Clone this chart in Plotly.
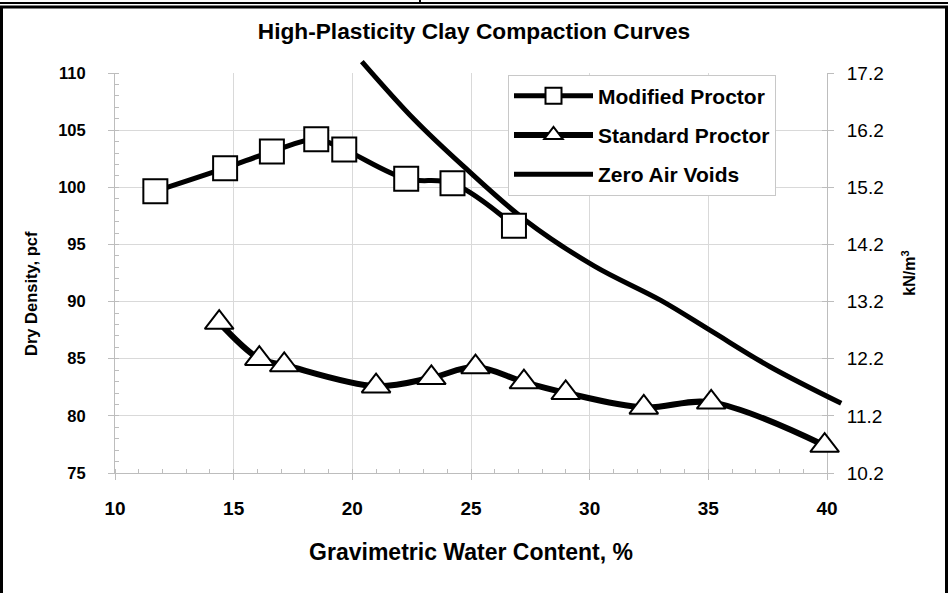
import plotly.graph_objects as go

# ---------------- data ----------------
mod_w = [11.70, 14.64, 16.61, 18.48, 19.66, 22.27, 24.22, 26.81]
mod_d = [99.65, 101.67, 103.13, 104.21, 103.31, 100.74, 100.35, 96.64]

std_w = [14.39, 16.08, 17.13, 21.00, 23.33, 25.19, 27.23, 28.99, 32.28, 35.12, 39.90]
std_d = [88.16, 85.00, 84.45, 82.60, 83.33, 84.27, 82.96, 82.02, 80.74, 81.18, 77.40]

zav_w = [20.4, 22.6, 24.7, 27.3, 30.2, 33.0, 35.1, 37.6, 40.6]
zav_d = [111.0, 105.95, 101.8, 97.1, 93.1, 90.1, 87.45, 84.3, 81.1]

x_ticks = [10, 15, 20, 25, 30, 35, 40]
y_ticks = [75, 80, 85, 90, 95, 100, 105, 110]
y2_ticks = [10.2, 11.2, 12.2, 13.2, 14.2, 15.2, 16.2, 17.2]

title_text = "High-Plasticity Clay Compaction Curves"
x_title = "Gravimetric Water Content, %"
y_title = "Dry Density, pcf"
y2_title = "kN/m<sup>3</sup>"

# ---------------- geometry ----------------
W, H = 948, 593
L, R, T, B = 115, 103, 58, 120          # outer plot area (lets the ZAV line overflow the axes box)
area_w = W - L - R                      # 730
area_h = H - T - B                      # 415
main_w = 712                            # main axes width  (x 10..40)
main_h = 400                            # main axes height (y 75..110)
xdom = main_w / area_w
ydom = main_h / area_h

def px(xp):
    return (xp - L) / area_w

def py(yp):
    return (H - B - yp) / area_h

FONT = "Liberation Sans, Arial, Helvetica, sans-serif"
GRID = "#d9d9d9"
AXC = "#bdbdbd"

fig = go.Figure()

# data traces live on a large invisible subplot (x2/y3) whose scale matches the main axes
fig.add_trace(go.Scatter(
    x=zav_w, y=zav_d, name="Zero Air Voids", mode="lines",
    line=dict(color="black", width=5, shape="spline", smoothing=1.0),
    legendgroup="c", legendrank=3, xaxis="x2", yaxis="y3",
))
fig.add_trace(go.Scatter(
    x=mod_w, y=mod_d, name="Modified Proctor", mode="lines+markers",
    line=dict(color="black", width=5, shape="spline", smoothing=1.0),
    marker=dict(symbol="square", size=24, color="white", line=dict(color="black", width=2)),
    legendgroup="a", legendrank=1, xaxis="x2", yaxis="y3",
))
fig.add_trace(go.Scatter(
    x=std_w, y=std_d, name="Standard Proctor", mode="lines+markers",
    line=dict(color="black", width=6, shape="spline", smoothing=1.0),
    marker=dict(symbol="triangle-up", size=25, color="white", line=dict(color="black", width=2)),
    legendgroup="b", legendrank=2, xaxis="x2", yaxis="y3",
))
# invisible helper traces to activate the visible axes
fig.add_trace(go.Scatter(x=[10, 40], y=[75, 110], mode="markers", marker=dict(opacity=0),
                         showlegend=False, hoverinfo="skip", xaxis="x", yaxis="y"))
fig.add_trace(go.Scatter(x=[10, 40], y=[10.2, 17.2], mode="markers", marker=dict(opacity=0),
                         showlegend=False, hoverinfo="skip", xaxis="x", yaxis="y2"))
fig.add_trace(go.Scatter(x=[10, 40], y=[10.2, 17.2], mode="markers", marker=dict(opacity=0),
                         showlegend=False, hoverinfo="skip", xaxis="x", yaxis="y4"))

x_per_px = 30 / main_w
y_per_px = 35 / main_h

fig.update_layout(
    width=W, height=H,
    margin=dict(l=L, r=R, t=T, b=B, pad=0),
    paper_bgcolor="white", plot_bgcolor="rgba(0,0,0,0)",
    font=dict(family=FONT, color="black"),
    showlegend=True,
    title=dict(text=title_text, x=0.5, xref="container", xanchor="center",
               y=1 - 31.5 / H, yref="container", yanchor="middle",
               font=dict(family=FONT, size=22.7, weight="bold", color="black")),
    xaxis=dict(domain=[0, xdom], range=[10, 40], tickvals=x_ticks,
               showgrid=True, gridcolor=GRID, gridwidth=1, zeroline=False,
               showline=True, linecolor=AXC, linewidth=1,
               ticks="outside", ticklen=6, tickcolor=AXC,
               minor=dict(dtick=1, ticks="inside", ticklen=4, tickcolor=AXC, showgrid=False),
               tickfont=dict(family=FONT, size=19, weight="bold", color="black"),
               ticklabelstandoff=12,
               title=dict(text=x_title, standoff=26,
                          font=dict(family=FONT, size=23, weight="bold", color="black")),
               anchor="y"),
    yaxis=dict(domain=[0, ydom], range=[75, 110], tickvals=y_ticks,
               showgrid=True, gridcolor=GRID, gridwidth=1, zeroline=False,
               showline=True, linecolor=AXC, linewidth=1,
               ticks="outside", ticklen=6, tickcolor=AXC,
               minor=dict(dtick=1, ticks="inside", ticklen=4, tickcolor=AXC, showgrid=False),
               tickfont=dict(family=FONT, size=16.5, weight="bold", color="black"),
               ticklabelstandoff=19,
               anchor="x"),
    yaxis2=dict(overlaying="y", side="right", anchor="x", range=[10.2, 17.2], tickvals=y2_ticks,
                ticktext=[f"{v:.1f}" for v in y2_ticks],
                showgrid=False, zeroline=False,
                showline=True, linecolor=AXC, linewidth=1,
                ticks="outside", ticklen=6, tickcolor=AXC,
                tickfont=dict(family=FONT, size=19, color="black"),
                ticklabelstandoff=9,
                title=dict(text=y2_title, standoff=21,
                           font=dict(family=FONT, size=16, weight="bold", color="black"))),
    yaxis4=dict(overlaying="y", side="right", anchor="x", range=[10.2, 17.2], tickvals=y2_ticks,
                showticklabels=False, showgrid=False, zeroline=False, showline=False,
                ticks="inside", ticklen=5, tickcolor=AXC),
    xaxis2=dict(domain=[0, 1], range=[10, 10 + area_w * x_per_px], visible=False, anchor="y3"),
    yaxis3=dict(domain=[0, 1], range=[75, 75 + area_h * y_per_px], visible=False, anchor="x2"),
    legend=dict(x=px(508), y=py(74.5), xanchor="left", yanchor="top",
                bgcolor="white", bordercolor="#c8c8c8", borderwidth=1,
                font=dict(family=FONT, size=21, weight="bold", color="black"),
                itemwidth=79, tracegroupgap=9, traceorder="grouped",
                itemsizing="trace"),
    annotations=[
        dict(text=y_title, xref="paper", yref="paper", x=px(31), y=py(294),
             xanchor="center", yanchor="middle", textangle=-90, showarrow=False,
             font=dict(family=FONT, size=16.5, weight="bold", color="black")),
    ],
)

# borders of the table cell that holds the chart
shapes = [
    dict(type="line", xref="paper", yref="paper", x0=px(1.5), x1=px(1.5), y0=py(593), y1=py(6),
         line=dict(color="black", width=3)),
    dict(type="line", xref="paper", yref="paper", x0=px(946.5), x1=px(946.5), y0=py(593), y1=py(6),
         line=dict(color="black", width=3)),
    dict(type="line", xref="paper", yref="paper", x0=px(0), x1=px(948), y0=py(7), y1=py(7),
         line=dict(color="black", width=3)),
    dict(type="line", xref="paper", yref="paper", x0=px(0), x1=px(948), y0=py(3), y1=py(3),
         line=dict(color="black", width=2)),
    dict(type="line", xref="paper", yref="paper", x0=px(420), x1=px(420), y0=py(0), y1=py(4),
         line=dict(color="black", width=2)),
]
fig.update_layout(shapes=shapes)

fig.write_html("out.html", config={"displayModeBar": False},
               post_script="document.body.style.margin='0';")
